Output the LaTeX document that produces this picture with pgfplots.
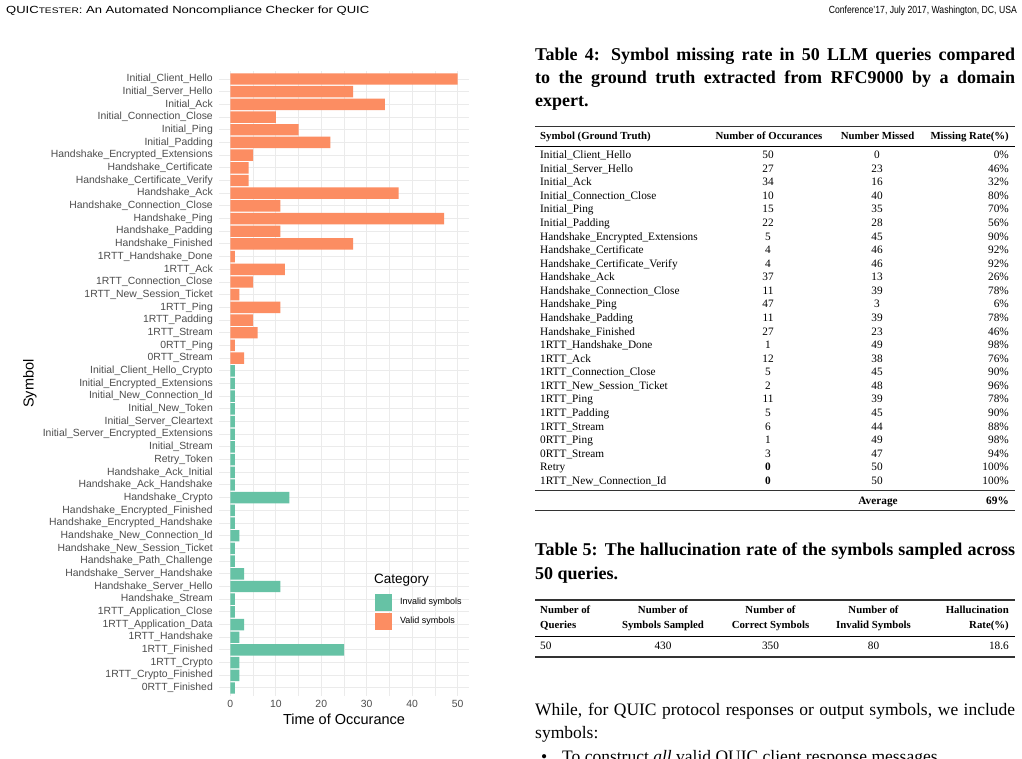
\documentclass[border=0pt]{standalone}
\usepackage{fontspec}
\usepackage{graphicx}
\usepackage{pgfplots}
\pgfplotsset{compat=1.18}
\setmainfont{Liberation Sans}
\newfontfamily\serif{Liberation Serif}
\definecolor{valid}{HTML}{FC8D62}
\definecolor{invalid}{HTML}{66C2A5}
\definecolor{gridc}{HTML}{EBEBEB}
\definecolor{tickc}{HTML}{4D4D4D}
\definecolor{rulec}{HTML}{333333}
\newcommand{\fs}[1]{\fontsize{#1}{#1}\selectfont}
\begin{document}
\begin{tikzpicture}[x=1pt,y=1pt]
\fill[white] (0,0) rectangle (1022,-759);
\useasboundingbox (0,0) rectangle (1022,-759);
% running header
\node[anchor=west, inner sep=0pt] at (6,-11) {\resizebox{363pt}{7.5pt}{QUIC{\fs{7.8}TESTER}: An Automated Noncompliance Checker for QUIC}};
\node[anchor=east, inner sep=0pt] at (1017,-11) {\resizebox{188pt}{7.5pt}{Conference'17, July 2017, Washington, DC, USA}};

\begin{axis}[
  at={(219pt,-695.6pt)}, anchor=south west,
  scale only axis, width=250pt, height=624.2pt,
  xmin=-2.5, xmax=52.5, ymin=-0.6, ymax=48.6,
  axis line style={draw=none},
  major tick length=0pt, minor tick length=0pt,
  xtick={0,10,20,30,40,50}, minor xtick={5,15,25,35,45},
  ytick={0,...,48},
  yticklabels={0RTT\_Finished,1RTT\_Crypto\_Finished,1RTT\_Crypto,1RTT\_Finished,1RTT\_Handshake,1RTT\_Application\_Data,1RTT\_Application\_Close,Handshake\_Stream,Handshake\_Server\_Hello,Handshake\_Server\_Handshake,Handshake\_Path\_Challenge,Handshake\_New\_Session\_Ticket\ ,Handshake\_New\_Connection\_Id,Handshake\_Encrypted\_Handshake,Handshake\_Encrypted\_Finished,Handshake\_Crypto,Handshake\_Ack\_Handshake,Handshake\_Ack\_Initial\ ,Retry\_Token,Initial\_Stream,Initial\_Server\_Encrypted\_Extensions,Initial\_Server\_Cleartext,Initial\_New\_Token,Initial\_New\_Connection\_Id,Initial\_Encrypted\_Extensions,Initial\_Client\_Hello\_Crypto,0RTT\_Stream,0RTT\_Ping,1RTT\_Stream,1RTT\_Padding,1RTT\_Ping,1RTT\_New\_Session\_Ticket,1RTT\_Connection\_Close,1RTT\_Ack,1RTT\_Handshake\_Done,Handshake\_Finished,Handshake\_Padding,Handshake\_Ping,Handshake\_Connection\_Close,Handshake\_Ack,Handshake\_Certificate\_Verify,Handshake\_Certificate,Handshake\_Encrypted\_Extensions\ ,Initial\_Padding,Initial\_Ping,Initial\_Connection\_Close,Initial\_Ack,Initial\_Server\_Hello,Initial\_Client\_Hello},
  xmajorgrids, xminorgrids, ymajorgrids,
  major grid style={gridc, line width=1.0pt},
  minor grid style={gridc, line width=0.55pt},
  tick label style={font=\fs{10.4}, text=tickc},
  yticklabel style={anchor=east, inner sep=0pt, xshift=-6pt},
  xticklabel style={anchor=north, inner sep=0pt, yshift=-4.7pt},
  /pgf/number format/assume math mode=true,
  xlabel={Time of Occurance}, ylabel={Symbol},
  every axis x label/.style={at={(axis description cs:0.5,-0.0375)}, anchor=center, font=\fs{14.5}},
  every axis y label/.style={at={(axis description cs:-0.756,0.5)}, rotate=90, anchor=center, font=\fs{14.5}},
  legend style={at={(axis description cs:0.624,0.1628)}, anchor=north west, draw=none, fill=none,
    inner sep=0pt, outer sep=0pt, row sep=2pt, column sep=8pt, font=\fs{9},
    nodes={inner sep=0pt, anchor=west}},
  legend image code/.code={\fill[#1] (0pt,-8.5pt) rectangle (17pt,8.5pt);},
  legend cell align=left,
]
\addplot[xbar, bar width=0.9, bar shift=0pt, fill=invalid, draw=none] coordinates {
(1,0) (2,1) (2,2) (25,3) (2,4) (3,5) (1,6) (1,7) (11,8) (3,9) (1,10) (1,11) (2,12)
(1,13) (1,14) (13,15) (1,16) (1,17) (1,18) (1,19) (1,20) (1,21) (1,22) (1,23) (1,24) (1,25)};
\addlegendentry{Invalid symbols}
\addplot[xbar, bar width=0.9, bar shift=0pt, fill=valid, draw=none] coordinates {
(3,26) (1,27) (6,28) (5,29) (11,30) (2,31) (5,32) (12,33) (1,34) (27,35) (11,36) (47,37)
(11,38) (37,39) (4,40) (4,41) (5,42) (22,43) (15,44) (10,45) (34,46) (27,47) (50,48)};
\addlegendentry{Valid symbols}
\end{axis}
\node[anchor=west, inner sep=0pt] at (374,-580) {\fs{13.5}Category};

% ---------- right column ----------
\begin{scope}[every node/.style={inner sep=0pt}]
\foreach \t/\yy in {{Table 4: Symbol missing rate in 50 LLM queries compared}/58,{to the ground truth extracted from RFC9000 by a domain}/81}
  \node[anchor=mid west] at (535,-\yy) {\serif\bfseries\fs{18}\makebox[480pt][s]{\t}};
\node[anchor=mid west] at (535,-103.5) {\serif\bfseries\fs{18}expert.};

\draw[rulec, line width=1.3pt] (535,-126.7) -- (1015,-126.7);
\node[anchor=mid west] at (540,-136.5) {\serif\bfseries\fs{10.8}Symbol (Ground Truth)};
\node[anchor=mid] at (769,-136.5) {\serif\bfseries\fs{10.8}Number of Occurances};
\node[anchor=mid] at (877.5,-136.5) {\serif\bfseries\fs{10.8}Number Missed};
\node[anchor=mid east] at (1009,-136.5) {\serif\bfseries\fs{10.8}Missing Rate(\%)};
\draw[black, line width=0.8pt] (535,-146.7) -- (1015,-146.7);

\foreach \n/\a/\b/\c [count=\i from 0] in {
 Initial\_Client\_Hello/50/0/0\%,
 Initial\_Server\_Hello/27/23/46\%,
 Initial\_Ack/34/16/32\%,
 Initial\_Connection\_Close/10/40/80\%,
 Initial\_Ping/15/35/70\%,
 Initial\_Padding/22/28/56\%,
 Handshake\_Encrypted\_Extensions/5/45/90\%,
 Handshake\_Certificate/4/46/92\%,
 Handshake\_Certificate\_Verify/4/46/92\%,
 Handshake\_Ack/37/13/26\%,
 Handshake\_Connection\_Close/11/39/78\%,
 Handshake\_Ping/47/3/6\%,
 Handshake\_Padding/11/39/78\%,
 Handshake\_Finished/27/23/46\%,
 1RTT\_Handshake\_Done/1/49/98\%,
 1RTT\_Ack/12/38/76\%,
 1RTT\_Connection\_Close/5/45/90\%,
 1RTT\_New\_Session\_Ticket/2/48/96\%,
 1RTT\_Ping/11/39/78\%,
 1RTT\_Padding/5/45/90\%,
 1RTT\_Stream/6/44/88\%,
 0RTT\_Ping/1/49/98\%,
 0RTT\_Stream/3/47/94\%,
 Retry/{\bfseries 0}/50/100\%,
 1RTT\_New\_Connection\_Id/{\bfseries 0}/50/100\%}
{
 \node[anchor=mid west] at (540,-156-13.57*\i) {\serif\fs{11.3}\n};
 \node[anchor=mid] at (768,-156-13.57*\i) {\serif\fs{11.3}\a};
 \node[anchor=mid] at (877,-156-13.57*\i) {\serif\fs{11.3}\b};
 \node[anchor=mid east] at (1009,-156-13.57*\i) {\serif\fs{11.3}\c};
}
\draw[rulec, line width=1.3pt] (535,-490.7) -- (1015,-490.7);
\node[anchor=mid] at (878,-501.7) {\serif\bfseries\fs{11.3}Average};
\node[anchor=mid east] at (1009,-501.7) {\serif\bfseries\fs{11.3}69\%};
\draw[rulec, line width=1.3pt] (535,-510.7) -- (1015,-510.7);

% Table 5
\node[anchor=mid west] at (535,-553) {\serif\bfseries\fs{18}\makebox[480pt][s]{Table 5: The hallucination rate of the symbols sampled across}};
\node[anchor=mid west] at (535,-577) {\serif\bfseries\fs{18}50 queries.};
\draw[rulec, line width=1.3pt] (535,-600) -- (1015,-600);
\node[anchor=mid west] at (540,-611) {\serif\bfseries\fs{10.8}Number of};
\node[anchor=mid west] at (540,-626) {\serif\bfseries\fs{10.8}Queries};
\node[anchor=mid] at (663,-611) {\serif\bfseries\fs{10.8}Number of};
\node[anchor=mid] at (663,-626) {\serif\bfseries\fs{10.8}Symbols Sampled};
\node[anchor=mid] at (770.5,-611) {\serif\bfseries\fs{10.8}Number of};
\node[anchor=mid] at (770.5,-626) {\serif\bfseries\fs{10.8}Correct Symbols};
\node[anchor=mid] at (873.5,-611) {\serif\bfseries\fs{10.8}Number of};
\node[anchor=mid] at (873.5,-626) {\serif\bfseries\fs{10.8}Invalid Symbols};
\node[anchor=mid east] at (1009,-611) {\serif\bfseries\fs{10.8}Hallucination};
\node[anchor=mid east] at (1009,-626) {\serif\bfseries\fs{10.8}Rate(\%)};
\draw[black, line width=0.8pt] (535,-636) -- (1015,-636);
\node[anchor=mid west] at (540,-647) {\serif\fs{11.3}50};
\node[anchor=mid] at (663,-647) {\serif\fs{11.3}430};
\node[anchor=mid] at (770.5,-647) {\serif\fs{11.3}350};
\node[anchor=mid] at (873.5,-647) {\serif\fs{11.3}80};
\node[anchor=mid east] at (1009,-647) {\serif\fs{11.3}18.6};
\draw[rulec, line width=1.3pt] (535,-657) -- (1015,-657);

% body text
\node[anchor=mid west] at (535,-713) {\serif\fs{17.5}\makebox[480pt][s]{While, for QUIC protocol responses or output symbols, we include}};
\node[anchor=mid west] at (535,-736) {\serif\fs{17.5}symbols:};
\node[anchor=base west] at (541,-762) {\serif\fs{17.5}\textbullet};
\node[anchor=base west] at (562,-762) {\serif\fs{17.5}To construct \textit{all} valid QUIC client response messages.};
\end{scope}
\end{tikzpicture}
\end{document}
